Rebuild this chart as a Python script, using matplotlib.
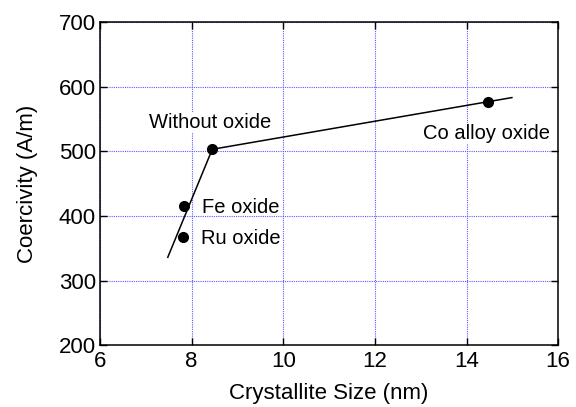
import matplotlib.pyplot as plt

plt.rcParams['font.family'] = ['Liberation Sans', 'DejaVu Sans']

# measured samples
labels = ["Without oxide", "Fe oxide", "Ru oxide", "Co alloy oxide"]
size_nm = [8.45, 7.83, 7.81, 14.46]
coercivity = [503, 416, 368, 576]

# fitted trend lines
fit1_x = [7.48, 8.45]
fit1_y = [336, 503]
fit2_x = [8.45, 14.99]
fit2_y = [503, 583]

fig = plt.figure(figsize=(5.76, 4.07), dpi=100)
ax = fig.add_axes([0.1736, 0.152, 0.7954, 0.794])

ax.grid(True, color='#5a5aff', linestyle=(0, (1, 1)), linewidth=0.8)
ax.set_axisbelow(True)

ax.plot(fit1_x, fit1_y, color='black', linewidth=1.1, zorder=3)
ax.plot(fit2_x, fit2_y, color='black', linewidth=1.1, zorder=3)
ax.plot(size_nm, coercivity, 'o', color='black', markersize=7, zorder=4)

box = dict(facecolor='white', edgecolor='none', pad=1)
fs = 14.5
ax.text(8.40, 536, labels[0], ha='center', va='baseline', fontsize=fs, bbox=box)
ax.text(8.22, 405, labels[1], ha='left', va='baseline', fontsize=fs)
ax.text(8.20, 356, labels[2], ha='left', va='baseline', fontsize=fs)
ax.text(15.83, 519, labels[3], ha='right', va='baseline', fontsize=fs, bbox=box)

ax.set_xlim(6, 16)
ax.set_ylim(200, 700)
ax.set_xticks([6, 8, 10, 12, 14, 16])
ax.set_yticks([200, 300, 400, 500, 600, 700])
ax.tick_params(direction='in', top=True, right=True, length=5, width=1,
               labelsize=16)
ax.tick_params(axis='x', pad=4.2)
ax.tick_params(axis='y', pad=3)
for s in ax.spines.values():
    s.set_linewidth(1.1)

ax.set_xlabel("Crystallite Size (nm)", fontsize=16, labelpad=8)
ax.set_ylabel("Coercivity (A/m)", fontsize=16, labelpad=15)

fig.savefig("out.png", dpi=100)
